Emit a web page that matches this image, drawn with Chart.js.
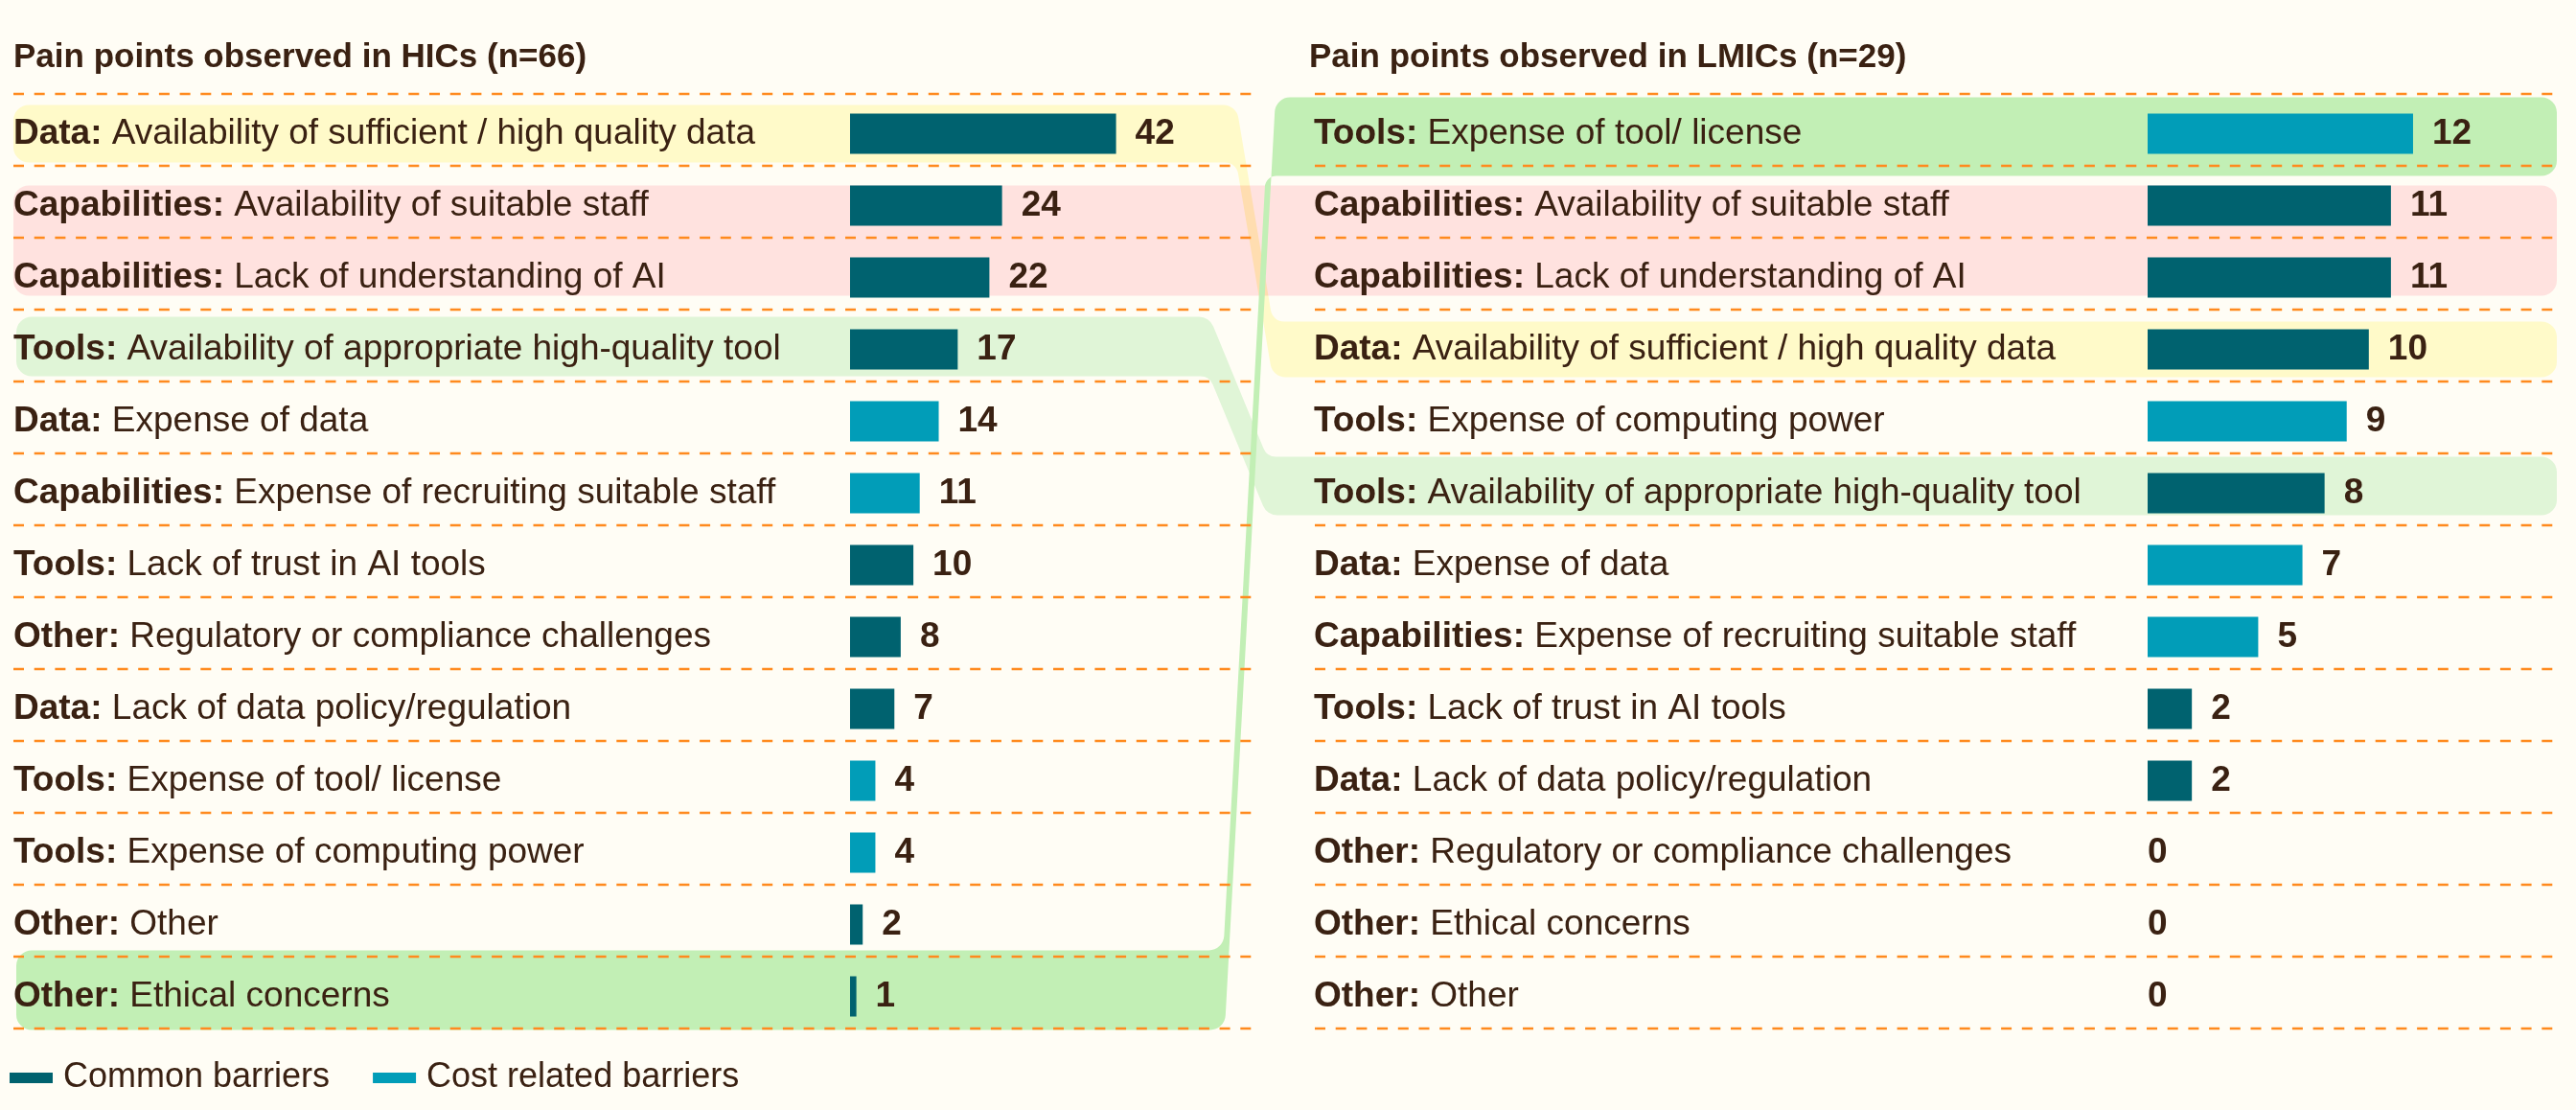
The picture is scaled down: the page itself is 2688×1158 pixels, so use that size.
<!DOCTYPE html>
<html>
<head>
<meta charset="utf-8">
<title>Pain points observed in HICs and LMICs</title>
<script src="https://cdn.jsdelivr.net/npm/chart.js@4.4.1/dist/chart.umd.min.js"></script>
<style>
  html, body { margin: 0; padding: 0; background: #fffdf5; }
  #wrap { position: relative; width: 2688px; height: 1158px; overflow: hidden; }
  canvas { position: absolute; top: 0; }
  #bands { left: 0; }
  #hic { left: 0; }
  #lmic { left: 1340px; }
</style>
</head>
<body>
<div id="wrap">
  <canvas id="bands" width="2688" height="1158"></canvas>
  <canvas id="hic" width="1340" height="1158"></canvas>
  <canvas id="lmic" width="1348" height="1158"></canvas>
</div>
<script>
// --- data -------------------------------------------------------------
var hicTitle  = "Pain points observed in HICs (n=66)";
var lmicTitle = "Pain points observed in LMICs (n=29)";

var hicLabels = [
  "Data: Availability of sufficient / high quality data",
  "Capabilities: Availability of suitable staff",
  "Capabilities: Lack of understanding of AI",
  "Tools: Availability of appropriate high-quality tool",
  "Data: Expense of data",
  "Capabilities: Expense of recruiting suitable staff",
  "Tools: Lack of trust in AI tools",
  "Other: Regulatory or compliance challenges",
  "Data: Lack of data policy/regulation",
  "Tools: Expense of tool/ license",
  "Tools: Expense of computing power",
  "Other: Other",
  "Other: Ethical concerns"
];
var hicValues = [42, 24, 22, 17, 14, 11, 10, 8, 7, 4, 4, 2, 1];
var hicKinds  = [0, 0, 0, 0, 1, 1, 0, 0, 0, 1, 1, 0, 0];   // 0 common, 1 cost related

var lmicLabels = [
  "Tools: Expense of tool/ license",
  "Capabilities: Availability of suitable staff",
  "Capabilities: Lack of understanding of AI",
  "Data: Availability of sufficient / high quality data",
  "Tools: Expense of computing power",
  "Tools: Availability of appropriate high-quality tool",
  "Data: Expense of data",
  "Capabilities: Expense of recruiting suitable staff",
  "Tools: Lack of trust in AI tools",
  "Data: Lack of data policy/regulation",
  "Other: Regulatory or compliance challenges",
  "Other: Ethical concerns",
  "Other: Other"
];
var lmicValues = [12, 11, 11, 10, 9, 8, 7, 5, 2, 2, 0, 0, 0];
var lmicKinds  = [1, 0, 0, 0, 1, 0, 1, 1, 0, 0, 0, 0, 0];

var legendLabels = ["Common barriers", "Cost related barriers"];

// --- styles -----------------------------------------------------------
var kindColors = ["#00626f", "#019db8"];
var ink  = "#3a2112";
var dash = "#ff8a1e";
var font = "'Liberation Sans', Arial, Helvetica, sans-serif";

Chart.defaults.font.family = font;

// titles, dashed rules, two-weight labels, values and legend
var painText = {
  id: 'painText',
  afterDatasetsDraw: function (chart, args, opts) {
    var ctx = chart.ctx;
    var y = chart.scales.y;
    var meta = chart.getDatasetMeta(0);
    var values = chart.data.datasets[0].data;
    var rowH = y.getPixelForValue(1) - y.getPixelForValue(0);

    ctx.save();
    ctx.fillStyle = ink;
    ctx.textAlign = 'left';
    ctx.textBaseline = 'alphabetic';
    ctx.font = 'bold 35px ' + font;
    ctx.fillText(opts.title, opts.titleX, 70);

    ctx.strokeStyle = dash;
    ctx.lineWidth = 2.4;
    ctx.setLineDash([11, 10.7]);
    for (var k = 0; k <= values.length; k++) {
      var ly = Math.round(chart.chartArea.top + k * rowH - 4);
      ctx.beginPath();
      ctx.moveTo(opts.ruleX0, ly);
      ctx.lineTo(opts.ruleX1, ly);
      ctx.stroke();
    }
    ctx.setLineDash([]);

    ctx.textBaseline = 'middle';
    chart.data.labels.forEach(function (lab, i) {
      var cy = y.getPixelForValue(i);
      var cut = lab.indexOf(':') + 1;
      ctx.font = 'bold 37px ' + font;
      ctx.fillText(lab.slice(0, cut), opts.labelX, cy);
      var w = ctx.measureText(lab.slice(0, cut)).width;
      ctx.font = '37px ' + font;
      ctx.fillText(lab.slice(cut), opts.labelX + w, cy);

      var bar = meta.data[i];
      ctx.font = 'bold 37px ' + font;
      ctx.fillText(String(values[i]), values[i] > 0 ? bar.x + 20 : bar.base, cy);
    });

    if (opts.legend) {
      var lx = 10;
      ctx.font = '36px ' + font;
      legendLabels.forEach(function (txt, i) {
        ctx.fillStyle = kindColors[i];
        ctx.fillRect(lx, 1119, 45, 11);
        ctx.fillStyle = ink;
        ctx.fillText(txt, lx + 56, 1124);
        lx += 56 + ctx.measureText(txt).width + 45;
      });
    }
    ctx.restore();
  }
};

function makeChart(id, labels, values, kinds, xMax, pad, textOpts) {
  return new Chart(document.getElementById(id), {
    type: 'bar',
    data: {
      labels: labels,
      datasets: [{
        data: values,
        backgroundColor: kinds.map(function (k) { return kindColors[k]; }),
        borderWidth: 0,
        barPercentage: 0.56,
        categoryPercentage: 1
      }]
    },
    options: {
      indexAxis: 'y',
      responsive: false,
      animation: false,
      layout: { padding: pad },
      scales: {
        x: { display: false, min: 0, max: xMax },
        y: { display: false }
      },
      plugins: {
        legend: { display: false },
        tooltip: { enabled: false },
        painText: textOpts
      }
    },
    plugins: [painText]
  });
}

var hicChart = makeChart('hic', hicLabels, hicValues, hicKinds, 64,
  { left: 887, right: 30, top: 102, bottom: 81 },
  { title: hicTitle, titleX: 14, labelX: 14, ruleX0: 14, ruleX1: 1310, legend: true });

var lmicChart = makeChart('lmic', lmicLabels, lmicValues, lmicKinds, 18.5,
  { left: 901, right: 20, top: 102, bottom: 81 },
  { title: lmicTitle, titleX: 26, labelX: 31, ruleX0: 32, ruleX1: 1328, legend: false });

// --- highlight bands linking the two rankings -------------------------
function yL(label) { return hicChart.scales.y.getPixelForValue(hicLabels.indexOf(label)); }
function yR(label) { return lmicChart.scales.y.getPixelForValue(lmicLabels.indexOf(label)); }

function roundPoly(ctx, pts) {
  var n = pts.length, a = pts[n - 1], b = pts[0];
  ctx.beginPath();
  ctx.moveTo((a[0] + b[0]) / 2, (a[1] + b[1]) / 2);
  for (var i = 0; i < n; i++) {
    var p = pts[i], q = pts[(i + 1) % n];
    ctx.arcTo(p[0], p[1], q[0], q[1], p[2]);
  }
  ctx.closePath();
  ctx.fill();
}

var bg = document.getElementById('bands').getContext('2d');
var RIGHT = 2668;

// capabilities: same rows on both sides
var c1 = yL("Capabilities: Availability of suitable staff");
var c2 = yL("Capabilities: Lack of understanding of AI");
bg.fillStyle = "#ffe2df";
roundPoly(bg, [[14, c1 - 21, 16], [RIGHT, c1 - 21, 16], [RIGHT, c2 + 19, 16], [14, c2 + 19, 16]]);

// data availability
var lc = yL("Data: Availability of sufficient / high quality data");
var rc = yR("Data: Availability of sufficient / high quality data");
bg.globalCompositeOperation = 'multiply';
bg.fillStyle = "#fffac9";
roundPoly(bg, [[14, lc - 30, 16], [1290, lc - 30, 16], [1328, rc - 29, 14], [RIGHT, rc - 29, 16],
               [RIGHT, rc + 29, 16], [1328, rc + 29, 16], [1290, lc + 30, 14], [14, lc + 30, 16]]);
bg.globalCompositeOperation = 'source-over';

// tool availability
lc = yL("Tools: Availability of appropriate high-quality tool");
rc = yR("Tools: Availability of appropriate high-quality tool");
bg.fillStyle = "#e0f5d7";
roundPoly(bg, [[17, lc - 34, 16], [1262, lc - 34, 16], [1322, rc - 38, 14], [RIGHT, rc - 38, 16],
               [RIGHT, rc + 23, 16], [1322, rc + 23, 16], [1262, lc + 28, 14], [17, lc + 28, 16]]);

// ethical concerns (HIC) -> tool licence (LMIC)
lc = yL("Other: Ethical concerns");
rc = yR("Tools: Expense of tool/ license");
var lTop = lc - 48, lBot = lc + 35, rTop = rc - 38, rBot = rc + 44;
function stripX(yy) { return 1331 + (yy - rTop) * (1278 - 1331) / (lBot - rTop); }
bg.fillStyle = "#c2efb5";
roundPoly(bg, [[17, lTop, 16], [stripX(lTop) - 6, lTop, 16], [stripX(rBot) - 6, rBot, 12],
               [RIGHT, rBot, 16], [RIGHT, rTop, 16], [1331, rTop, 16], [1278, lBot, 16], [17, lBot, 16]]);
</script>
</body>
</html>
